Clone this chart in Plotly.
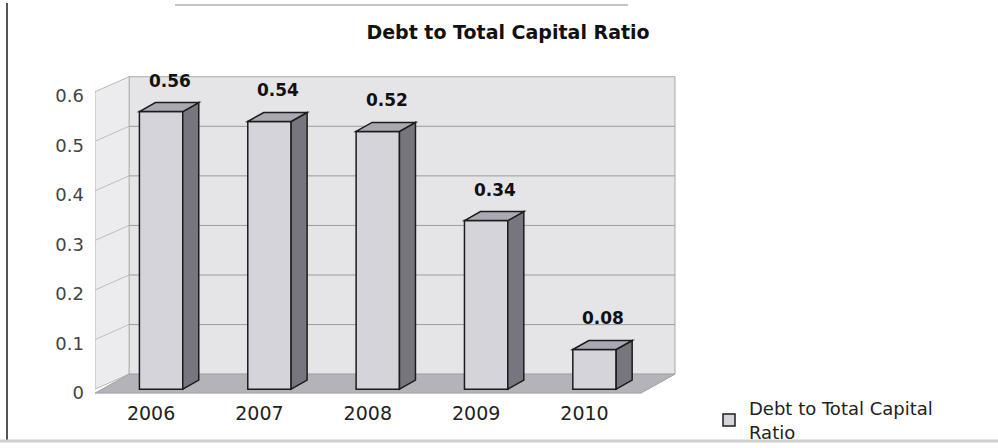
import plotly.graph_objects as go

# Chart data
years = ["2006", "2007", "2008", "2009", "2010"]
ratios = [0.56, 0.54, 0.52, 0.34, 0.08]
y_ticks = [0, 0.1, 0.2, 0.3, 0.4, 0.5, 0.6]
y_tick_text = ["0", "0.1", "0.2", "0.3", "0.4", "0.5", "0.6"]
series_name = "Debt to Total Capital Ratio"

# Layout geometry (data units) for the pseudo-3D look
W, H = 998, 448
X_RANGE = [-0.61, 4.78]
Y_RANGE = [-0.03, 0.66]
ML, MR, MT, MB = 95, 319, 62, 44
px_x = (W - ML - MR) / (X_RANGE[1] - X_RANGE[0])   # pixels per x unit
px_y = (H - MT - MB) / (Y_RANGE[1] - Y_RANGE[0])   # pixels per y unit

BAR_W = 0.40
BAR_DX, BAR_DY = 16 / px_x, 9 / px_y      # bar depth offset
WALL_DX, WALL_DY = 34 / px_x, 15 / px_y   # wall depth offset
Y_TOP = y_ticks[-1]
X_LEFT = X_RANGE[0]
X_BACK_RIGHT = 4.743
FLOOR_Y = -0.008

xpos = list(range(len(years)))

FRONT = "#d5d4db"
SIDE = "#77767f"
TOP = "#aaa9b2"
EDGE = "#1c1c1c"
WALL = "#e5e5e7"
LWALL = "#ececee"
FLOOR = "#b3b3b9"
GRID = "#9c9c9c"
FONT = "DejaVu Sans"


def poly(pts):
    return "M " + " L ".join(f"{x},{y}" for x, y in pts) + " Z"


shapes = []

# back wall
shapes.append(dict(
    type="path", xref="x", yref="y", layer="below",
    path=poly([(X_LEFT + WALL_DX, WALL_DY), (X_BACK_RIGHT, WALL_DY),
               (X_BACK_RIGHT, Y_TOP + WALL_DY), (X_LEFT + WALL_DX, Y_TOP + WALL_DY)]),
    fillcolor=WALL, line=dict(color="#a8a8a8", width=1)))
# left wall
shapes.append(dict(
    type="path", xref="x", yref="y", layer="below",
    path=poly([(X_LEFT, 0), (X_LEFT, Y_TOP), (X_LEFT + WALL_DX, Y_TOP + WALL_DY),
               (X_LEFT + WALL_DX, WALL_DY)]),
    fillcolor=LWALL, line=dict(color="#b8b8b8", width=1)))
# floor
shapes.append(dict(
    type="path", xref="x", yref="y", layer="below",
    path=poly([(X_LEFT, FLOOR_Y), (X_BACK_RIGHT - WALL_DX, FLOOR_Y),
               (X_BACK_RIGHT, WALL_DY), (X_LEFT + WALL_DX, WALL_DY)]),
    fillcolor=FLOOR, line=dict(color="#a0a0a6", width=1)))

# gridlines on the walls
for t in y_ticks[1:-1]:
    shapes.append(dict(type="line", xref="x", yref="y", layer="below",
                       x0=X_LEFT, y0=t, x1=X_LEFT + WALL_DX, y1=t + WALL_DY,
                       line=dict(color="#bdbdbd", width=1)))
    shapes.append(dict(type="line", xref="x", yref="y", layer="below",
                       x0=X_LEFT + WALL_DX, y0=t + WALL_DY, x1=X_BACK_RIGHT, y1=t + WALL_DY,
                       line=dict(color=GRID, width=1)))

# side and top faces of each bar
for x, v in zip(xpos, ratios):
    xl, xr = x - BAR_W / 2, x + BAR_W / 2
    shapes.append(dict(
        type="path", xref="x", yref="y",
        path=poly([(xr, 0), (xr + BAR_DX, BAR_DY), (xr + BAR_DX, v + BAR_DY), (xr, v)]),
        fillcolor=SIDE, line=dict(color=EDGE, width=1.5)))
    shapes.append(dict(
        type="path", xref="x", yref="y",
        path=poly([(xl, v), (xl + BAR_DX, v + BAR_DY), (xr + BAR_DX, v + BAR_DY), (xr, v)]),
        fillcolor=TOP, line=dict(color=EDGE, width=1.5)))

# page frame
def px2paper_x(p):
    return (p - ML) / (W - ML - MR)


def px2paper_y(p):
    return (H - MB - p) / (H - MT - MB)


shapes.append(dict(type="line", xref="paper", yref="paper",
                   x0=px2paper_x(7), x1=px2paper_x(7), y0=px2paper_y(3), y1=px2paper_y(441),
                   line=dict(color="#555555", width=2)))
shapes.append(dict(type="line", xref="paper", yref="paper",
                   x0=px2paper_x(0), x1=px2paper_x(998), y0=px2paper_y(441), y1=px2paper_y(441),
                   line=dict(color="#d0d0d0", width=3)))
shapes.append(dict(type="line", xref="paper", yref="paper",
                   x0=px2paper_x(175), x1=px2paper_x(628), y0=px2paper_y(5), y1=px2paper_y(5),
                   line=dict(color="#c4c4c4", width=2)))

fig = go.Figure()
fig.add_trace(go.Bar(
    x=xpos, y=ratios, width=BAR_W, name="Debt to Total Capital<br>Ratio",
    marker=dict(color=FRONT, line=dict(color=EDGE, width=1.5)),
    hoverinfo="skip"))

annotations = []
for x, v in zip(xpos, ratios):
    annotations.append(dict(
        x=x + BAR_DX / 2, y=v + BAR_DY, xref="x", yref="y", text=f"{v:.2f}",
        showarrow=False, yshift=22, xshift=1,
        font=dict(family=FONT, size=17, color="#111111", weight="bold")))

fig.update_layout(
    width=W, height=H,
    margin=dict(l=ML, r=MR, t=MT, b=MB, autoexpand=False),
    paper_bgcolor="white", plot_bgcolor="rgba(0,0,0,0)",
    title=dict(text=series_name, x=508 / W, xref="container", xanchor="center",
               y=1 - 32 / H, yref="container", yanchor="middle",
               font=dict(family=FONT, size=19, color="#111111", weight="bold")),
    shapes=shapes, annotations=annotations,
    showlegend=True,
    legend=dict(x=709 / W, y=1 - 390 / H, xref="container", yref="container",
                xanchor="left", yanchor="top",
                font=dict(family=FONT, size=18, color="#222222"),
                bgcolor="rgba(0,0,0,0)", itemwidth=30),
    xaxis=dict(range=X_RANGE, tickvals=xpos, ticktext=years, showgrid=False,
               zeroline=False, showline=False, ticks="", ticklabelshift=-10,
               ticklabelstandoff=-4, automargin=False,
               tickfont=dict(family=FONT, size=19, color="#222222")),
    yaxis=dict(range=Y_RANGE, tickvals=y_ticks, ticktext=y_tick_text, showgrid=False,
               zeroline=False, showline=False, ticks="", ticklabelstandoff=10,
               ticklabelshift=4, automargin=False,
               tickfont=dict(family=FONT, size=18, color="#444444")),
)

fig.write_html("out.html")
